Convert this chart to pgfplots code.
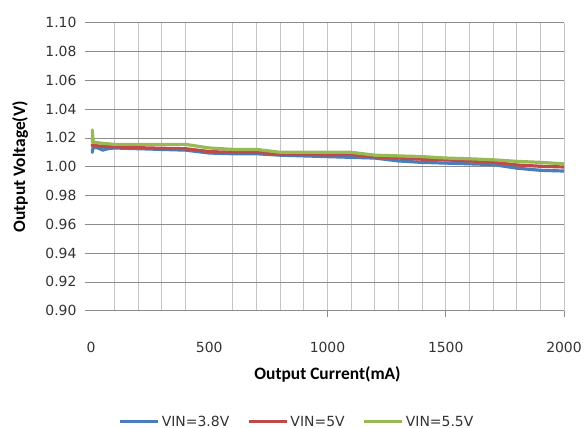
\documentclass[border=0pt]{standalone}
\usepackage{fontspec}
\setmainfont{DejaVu Sans}
\newfontfamily\titlefont{Carlito}
\usepackage{pgfplots}
\pgfplotsset{compat=1.18}

\definecolor{serA}{HTML}{4A7EBB}
\definecolor{serB}{HTML}{BE4B48}
\definecolor{serC}{HTML}{98B954}
\definecolor{hgrid}{HTML}{8C8C8C}
\definecolor{vgrid}{HTML}{C4C4C4}

\begin{document}
\begin{tikzpicture}
\useasboundingbox (-91bp,-117.3bp) rectangle (494bp,310.7bp);
\begin{axis}[
  at={(0,0)}, anchor=south west,
  scale only axis, width=473bp, height=288bp,
  xmin=0, xmax=2000, ymin=0.90, ymax=1.10,
  axis line style={draw=none},
  xtick={0,500,1000,1500,2000},
  xtick style={draw=none},
  extra x ticks={1000,1500,2000},
  extra x tick labels={},
  extra x tick style={xtick style={draw=hgrid, line width=0.8bp}, major tick length=6bp, tick align=outside, grid=none},
  minor xtick={100,200,300,400,600,700,800,900,1000,1100,1200,1300,1400,1500,1600,1700,1800,1900,2000},
  minor tick length=0pt,
  xminorgrids,
  x grid style={vgrid, line width=1bp},
  ytick={0.90,0.92,0.94,0.96,0.98,1.00,1.02,1.04,1.06,1.08,1.10},
  ytick pos=left, xtick pos=bottom,
  ytick style={draw=hgrid, line width=0.8bp},
  major tick length=6bp, tick align=outside,
  ymajorgrids,
  y grid style={hgrid, line width=0.8bp},
  /pgf/number format/assume math mode=true,
  /pgf/number format/1000 sep={},
  ticklabel style={font=\fontsize{14}{16}\selectfont, text=black!80},
  yticklabel style={xshift=-5bp, /pgf/number format/.cd, fixed, fixed zerofill, precision=2},
  xticklabel style={yshift=-22bp},
  xlabel={Output Current(mA)},
  ylabel={Output Voltage(V)},
  every axis x label/.style={at={(axis description cs:0.5,-0.2222)}, anchor=center,
    font=\titlefont\bfseries\fontsize{17.5}{20}\selectfont},
  every axis y label/.style={at={(axis description cs:-0.150,0.5)}, rotate=90, anchor=center,
    font=\titlefont\bfseries\fontsize{17.5}{20}\selectfont},
  legend style={at={(axis description cs:0.4334,-0.3854)}, anchor=center, draw=none,
    font=\fontsize{14}{16}\selectfont, text=black!80,
    nodes={inner xsep=0bp, inner ysep=0bp},
    /tikz/every odd column/.append style={column sep=2bp},
    /tikz/every even column/.append style={column sep=18bp}},
  legend columns=-1,
  legend image code/.code={\draw[#1, line width=3.2bp] (0bp,0bp) -- (38bp,0bp);},
]

\addplot[serA, line width=3.2bp, line join=round] coordinates {
  (0,1.0125) (5,1.0100) (10,1.0135) (30,1.0130) (50,1.0115) (70,1.0125)
  (100,1.0130) (200,1.0125) (300,1.0120) (400,1.0115) (500,1.0095)
  (600,1.0090) (700,1.0090) (800,1.0080) (900,1.0075) (1000,1.0070)
  (1100,1.0065) (1200,1.0060) (1300,1.0040) (1400,1.0030) (1500,1.0025)
  (1600,1.0020) (1700,1.0015) (1800,0.9990) (1900,0.9975) (2000,0.9970)
};
\addplot[serB, line width=3.2bp, line join=round] coordinates {
  (0,1.0145) (10,1.0150) (50,1.0140) (100,1.0138) (200,1.0132) (300,1.0128)
  (400,1.0125) (500,1.0105) (600,1.0100) (700,1.0100) (800,1.0088)
  (900,1.0085) (1000,1.0083) (1100,1.0085) (1200,1.0068) (1300,1.0060)
  (1400,1.0052) (1500,1.0047) (1600,1.0040) (1700,1.0031) (1800,1.0012)
  (1900,1.0003) (2000,0.9998)
};
\addplot[serC, line width=3.2bp, line join=round] coordinates {
  (0,1.0160) (5,1.0255) (10,1.0170) (50,1.0162) (100,1.0155) (200,1.0155)
  (300,1.0155) (400,1.0155) (500,1.0130) (600,1.0120) (700,1.0120)
  (800,1.0100) (900,1.0100) (1000,1.0100) (1100,1.0100) (1200,1.0080)
  (1300,1.0075) (1400,1.0070) (1500,1.0060) (1600,1.0055) (1700,1.0048)
  (1800,1.0037) (1900,1.0030) (2000,1.0020)
};
\legend{VIN=3.8V, VIN=5V, VIN=5.5V}
\end{axis}
\end{tikzpicture}
\end{document}
